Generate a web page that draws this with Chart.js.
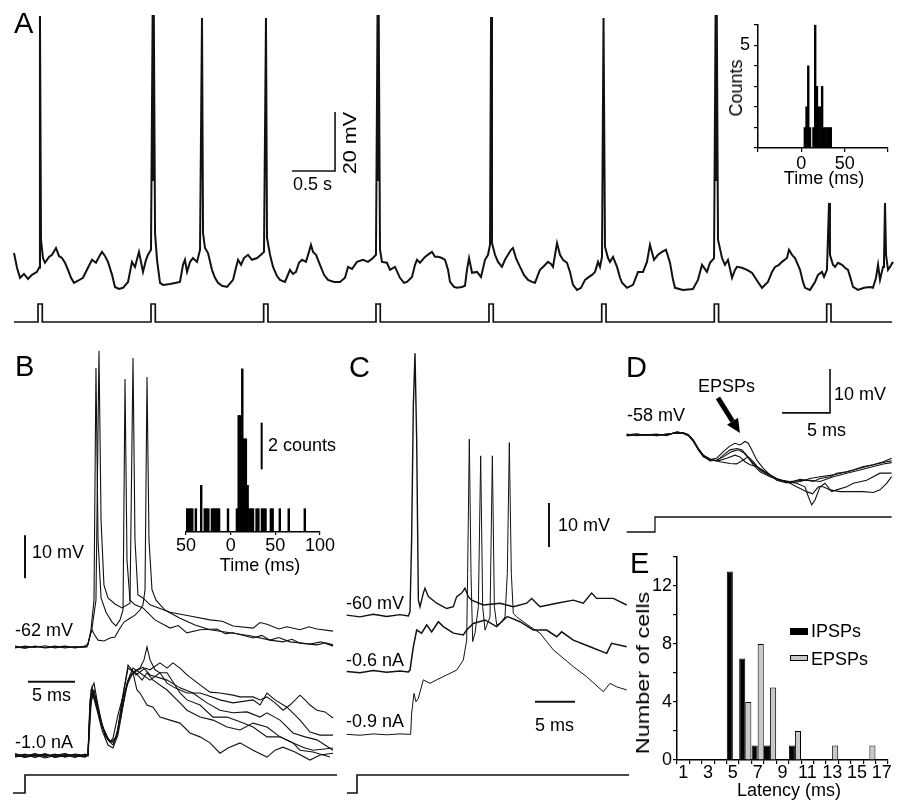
<!DOCTYPE html>
<html><head><meta charset="utf-8">
<script src="https://cdn.jsdelivr.net/npm/chart.js@4.4.0/dist/chart.umd.min.js"></script>
<style>
html,body{margin:0;padding:0;background:#fff;}
#fig{position:relative;width:903px;height:800px;background:#fff;overflow:hidden;font-family:"Liberation Sans",Arial,Helvetica,sans-serif;color:#000;}
canvas{position:absolute;}
.t{position:absolute;font-size:18px;line-height:1;white-space:nowrap;transform:translateY(-50%);z-index:5;}
.c{transform:translate(-50%,-50%);}
.r{transform:translate(-50%,-50%) rotate(-90deg);}
.p{font-size:29px;}
.box{position:absolute;z-index:5;box-sizing:border-box;}
</style></head><body>
<div id="fig">
<canvas id="cA" width="903" height="330" style="left:0;top:0"></canvas>
<canvas id="cAi" width="203" height="190" style="left:700px;top:10px"></canvas>
<canvas id="cB" width="340" height="460" style="left:0;top:340px"></canvas>
<canvas id="cBi" width="160" height="230" style="left:176px;top:350px"></canvas>
<canvas id="cC" width="300" height="460" style="left:340px;top:340px"></canvas>
<canvas id="cD" width="283" height="200" style="left:620px;top:340px"></canvas>
<canvas id="cE" width="278" height="255" style="left:625px;top:545px"></canvas>

<div class="t p" style="left:14px;top:23px">A</div>
<div class="t" style="left:293px;top:184px">0.5 s</div>
<div class="t" style="left:350px;top:143px;transform:translate(-50%,-50%) rotate(-90deg) scaleX(1.2)">20 mV</div>
<div class="t r" style="left:736px;top:88px">Counts</div>
<div class="t c" style="left:824px;top:178px">Time (ms)</div>

<div class="t p" style="left:15px;top:366px">B</div>
<div class="t" style="left:15px;top:630px">-62 mV</div>
<div class="t" style="left:32px;top:552px">10 mV</div>
<div class="t" style="left:32px;top:695px">5 ms</div>
<div class="t" style="left:15px;top:742px">-1.0 nA</div>
<div class="t" style="left:268px;top:445px">2 counts</div>
<div class="t c" style="left:260px;top:565px">Time (ms)</div>

<div class="t p" style="left:349px;top:367px">C</div>
<div class="t" style="left:346px;top:603px">-60 mV</div>
<div class="t" style="left:346px;top:660px">-0.6 nA</div>
<div class="t" style="left:346px;top:721px">-0.9 nA</div>
<div class="t" style="left:558px;top:525px">10 mV</div>
<div class="t" style="left:535px;top:725px">5 ms</div>

<div class="t p" style="left:626px;top:367px">D</div>
<div class="t" style="left:627px;top:415px">-58 mV</div>
<div class="t" style="left:698px;top:386px">EPSPs</div>
<div class="t" style="left:834px;top:394px">10 mV</div>
<div class="t" style="left:807px;top:430px">5 ms</div>

<div class="t p" style="left:630px;top:563px">E</div>
<div class="box" style="left:790px;top:628px;width:18px;height:7px;background:#000"></div>
<div class="box" style="left:790px;top:655px;width:18px;height:6px;background:#c8c8c8;border:1px solid #000"></div>
<div class="t" style="left:811px;top:631px">IPSPs</div>
<div class="t" style="left:811px;top:659px">EPSPs</div>
<div class="t" style="left:643px;top:673px;transform:translate(-50%,-50%) rotate(-90deg) scaleX(1.3)">Number of cells</div>
<div class="t c" style="left:789px;top:790px">Latency (ms)</div>
</div>
<script>
// ---------------- DATA ----------------
// Panel A: membrane potential (time s, mV)
const traceA = [[0,-52.5],[0.035,-57.5],[0.07,-60.9],[0.116,-59.6],[0.163,-61.3],[0.209,-59.9],[0.267,-58.9],[0.291,-57.5],[0.302,27.9],[0.314,-48.0],[0.337,-54.2],[0.36,-55.8],[0.407,-53.8],[0.442,-53.1],[0.488,-50.8],[0.523,-53.5],[0.558,-54.2],[0.593,-55.8],[0.628,-58.2],[0.663,-60.9],[0.698,-62.6],[0.744,-61.9],[0.802,-60.9],[0.86,-57.5],[0.907,-54.8],[0.953,-55.8],[0.988,-53.8],[1.023,-52.1],[1.058,-53.5],[1.093,-55.5],[1.14,-59.9],[1.174,-64.0],[1.221,-64.7],[1.267,-64.3],[1.326,-62.3],[1.372,-55.5],[1.407,-57.2],[1.453,-52.1],[1.5,-58.9],[1.535,-54.8],[1.558,-53.1],[1.593,-51.4],[1.612,28.2],[1.619,-27.7],[1.626,28.2],[1.64,-45.7],[1.663,-54.8],[1.698,-62.6],[1.733,-63.3],[1.814,-63.0],[1.884,-62.6],[1.93,-62.3],[1.965,-56.5],[1.988,-54.8],[2.012,-58.9],[2.047,-55.5],[2.081,-54.2],[2.128,-55.5],[2.163,-51.4],[2.186,27.2],[2.198,-45.7],[2.221,-50.8],[2.256,-52.5],[2.302,-58.2],[2.337,-60.9],[2.372,-62.6],[2.419,-63.6],[2.477,-64.0],[2.547,-61.6],[2.581,-57.5],[2.605,-54.8],[2.64,-56.5],[2.674,-54.2],[2.721,-53.1],[2.767,-54.8],[2.826,-54.2],[2.872,-53.1],[2.907,-52.1],[2.93,27.2],[2.942,-47.4],[2.977,-53.1],[3.012,-57.2],[3.058,-60.3],[3.093,-61.6],[3.151,-62.3],[3.209,-58.2],[3.244,-59.6],[3.279,-58.9],[3.314,-55.8],[3.349,-54.8],[3.395,-55.5],[3.43,-52.1],[3.453,-49.7],[3.477,-52.1],[3.512,-53.1],[3.558,-56.5],[3.605,-59.9],[3.651,-61.6],[3.721,-62.3],[3.791,-62.3],[3.849,-60.9],[3.884,-57.2],[3.93,-57.9],[3.988,-55.5],[4.058,-54.8],[4.116,-55.5],[4.174,-54.2],[4.209,-53.1],[4.227,28.2],[4.234,-27.7],[4.241,28.2],[4.256,-51.4],[4.279,-55.5],[4.337,-55.8],[4.372,-58.2],[4.43,-57.2],[4.488,-60.9],[4.535,-62.6],[4.57,-62.3],[4.628,-60.6],[4.663,-56.5],[4.686,-54.8],[4.721,-55.8],[4.779,-53.8],[4.826,-52.8],[4.86,-52.1],[4.895,-53.8],[4.93,-53.8],[4.977,-54.2],[5.012,-54.8],[5.047,-58.2],[5.07,-62.3],[5.116,-64.0],[5.151,-64.3],[5.209,-64.0],[5.244,-63.6],[5.267,-58.2],[5.291,-54.2],[5.326,-59.2],[5.384,-58.9],[5.43,-60.6],[5.477,-54.8],[5.512,-53.1],[5.535,-49.7],[5.547,27.5],[5.558,-49.1],[5.593,-53.1],[5.628,-55.5],[5.674,-57.2],[5.709,-54.8],[5.744,-53.1],[5.779,-51.4],[5.802,-50.8],[5.837,-54.2],[5.884,-57.2],[5.93,-59.9],[5.977,-61.6],[6.023,-62.3],[6.058,-62.6],[6.093,-59.9],[6.116,-58.2],[6.163,-56.9],[6.209,-55.5],[6.244,-56.2],[6.267,-57.2],[6.291,-53.1],[6.314,-49.1],[6.349,-53.1],[6.384,-54.8],[6.43,-55.8],[6.465,-58.9],[6.5,-63.3],[6.547,-65.0],[6.593,-64.3],[6.64,-61.6],[6.686,-60.6],[6.721,-59.9],[6.756,-58.9],[6.791,-55.5],[6.814,-57.2],[6.837,-53.8],[6.855,27.2],[6.872,-50.4],[6.907,-54.2],[6.93,-55.5],[6.965,-53.8],[7.012,-57.2],[7.047,-60.9],[7.07,-62.6],[7.128,-64.3],[7.198,-63.3],[7.256,-58.9],[7.314,-58.9],[7.36,-55.5],[7.395,-49.7],[7.442,-54.8],[7.488,-53.1],[7.535,-52.1],[7.581,-51.4],[7.628,-55.8],[7.663,-61.6],[7.686,-64.3],[7.779,-65.0],[7.895,-64.7],[7.953,-61.6],[8.0,-56.5],[8.058,-58.9],[8.093,-55.8],[8.14,-54.2],[8.158,28.2],[8.165,-27.7],[8.172,28.2],[8.186,-48.0],[8.233,-54.2],[8.267,-56.5],[8.302,-54.8],[8.349,-60.9],[8.384,-58.2],[8.407,-57.2],[8.465,-57.5],[8.523,-58.2],[8.581,-59.2],[8.651,-62.3],[8.698,-64.3],[8.767,-62.3],[8.814,-58.9],[8.849,-57.2],[8.895,-56.5],[8.93,-55.5],[8.988,-54.2],[9.012,-51.4],[9.047,-53.1],[9.081,-54.2],[9.116,-56.5],[9.14,-58.2],[9.174,-62.3],[9.198,-64.3],[9.256,-65.0],[9.314,-62.3],[9.349,-59.9],[9.395,-58.9],[9.419,-60.6],[9.453,-58.2],[9.477,-35.5],[9.488,-53.1],[9.523,-56.5],[9.547,-57.2],[9.581,-55.8],[9.628,-56.5],[9.663,-57.5],[9.698,-58.2],[9.733,-61.6],[9.756,-64.0],[9.814,-65.0],[9.884,-64.3],[9.953,-64.0],[9.988,-64.3],[10.023,-60.9],[10.047,-56.5],[10.07,-61.6],[10.105,-57.2],[10.116,-55.5],[10.128,-35.5],[10.14,-53.1],[10.163,-58.2],[10.186,-57.2],[10.221,-55.5]];
const stimOnsetsA = [0.279,1.593,2.903,4.209,5.523,6.834,8.143,9.450]; // s
const stimWidthA = 0.05;   // s
const stimEndA = 10.21;    // s
const scaleBarA = [[3.233,-24.7],[3.733,-24.7],[3.733,-4.7]]; // 0.5 s, 20 mV

// Panel A inset: spike latency histogram (ms, counts)
const insetA_bins = [4,6,8,10,12,14,16,18,20,22,24,26,28,30,32,34];
const insetA_counts = [1,2,4,1,0,1,6,3,2,2,3,1,1,1,1,1];

// Panel B: responses (ms, mV)
const traceB1 = [[-1.06,-61.8],[0,-62.2],[1.06,-61.9],[2.13,-62.1],[3.19,-61.8],[4.26,-62.2],[5.32,-61.9],[6.38,-62.0],[6.70,-61.5],[7.02,-58.0],[7.34,-51.1],[7.55,2.9],[7.77,-37.1],[8.09,-50.6],[8.62,-53.9],[9.26,-56.2],[9.68,-57.1],[10.11,-55.7],[10.43,-53.4],[10.64,0.3],[10.85,-41.8],[11.17,-51.1],[11.70,-52.2],[12.55,-52.9],[13.83,-55.7],[15.43,-57.6],[16.3,-57.0],[17.23,-58.7],[18.62,-58.0],[20.43,-57.8],[21.3,-58.9],[22.13,-58.7],[24.26,-59.9],[25.2,-59.3],[26.06,-60.4],[27.45,-60.8],[28.4,-60.2],[29.26,-61.1],[31.06,-61.5],[32.0,-61.0],[32.77,-61.5]];
const traceB2 = [[-1.06,-62.2],[0,-61.8],[1.06,-62.1],[2.13,-61.7],[3.19,-62.2],[4.26,-61.9],[5.32,-62.2],[6.38,-61.8],[6.70,-61.3],[7.13,-57.6],[7.55,-51.1],[7.87,6.9],[8.09,-32.5],[8.40,-47.6],[8.83,-50.6],[9.57,-52.0],[10.32,-52.9],[11.17,-51.8],[11.49,5.2],[11.70,-37.1],[12.02,-49.9],[12.55,-50.6],[13.30,-52.2],[15.43,-53.9],[17.55,-54.8],[19.68,-55.7],[21.0,-56.0],[22.13,-57.1],[24.26,-57.6],[25.0,-56.3],[25.74,-56.7],[27.0,-57.8],[27.87,-57.3],[29.26,-58.0],[30.2,-57.3],[31.06,-57.8],[32.77,-58.3]];
const traceB3 = [[-1.06,-62.0],[0,-62.3],[1.06,-61.8],[2.13,-62.2],[3.19,-62.0],[4.26,-61.8],[5.32,-62.1],[6.60,-62.0],[6.91,-59.4],[7.13,-58.0],[7.34,-59.0],[7.77,-60.4],[8.40,-60.6],[9.04,-59.9],[9.57,-59.7],[10.0,-58.0],[10.53,-56.2],[11.17,-55.3],[11.70,-54.6],[12.23,-53.4],[12.55,-52.2],[12.77,-48.7],[12.98,0.8],[13.19,-37.1],[13.51,-48.7],[13.94,-51.1],[14.89,-53.4],[16.49,-55.3],[18.09,-56.9],[19.68,-58.0],[21.81,-58.7],[23.94,-59.4],[26.06,-60.4],[27.0,-59.8],[28.19,-60.8],[30.32,-61.3],[31.5,-60.8],[32.77,-61.8]];
const traceB4 = [[-1.06,-87.0],[0,-87.6],[1.06,-86.8],[2.13,-87.5],[3.19,-86.9],[4.26,-87.6],[5.32,-87.0],[6.38,-87.4],[6.70,-86.9],[6.91,-74.3],[7.13,-72.0],[7.45,-74.3],[7.98,-79.0],[8.51,-82.5],[9.04,-84.1],[9.36,-83.2],[9.89,-77.8],[10.32,-74.3],[10.74,-69.2],[10.96,-66.2],[11.38,-67.3],[11.81,-68.5],[12.23,-67.8],[12.77,-66.9],[13.30,-67.3],[14.36,-65.7],[15.11,-66.9],[15.74,-65.7],[16.49,-66.9],[17.23,-68.5],[18.62,-70.8],[19.68,-72.5],[20.74,-72.7],[22.13,-73.2],[22.87,-73.6],[24.26,-73.6],[25.0,-74.3],[25.74,-73.6],[26.60,-75.0],[27.45,-76.7],[28.19,-75.5],[29.26,-73.2],[29.79,-74.3],[30.32,-75.5],[31.06,-76.7],[31.91,-77.1],[32.77,-78.5]];
const traceB5 = [[-1.06,-87.5],[0,-86.9],[1.06,-87.7],[2.13,-86.8],[3.19,-87.6],[4.26,-87.1],[5.32,-87.7],[6.38,-86.9],[6.70,-87.1],[7.02,-72.0],[7.34,-70.4],[7.66,-74.3],[8.19,-80.1],[8.83,-83.6],[9.36,-84.8],[9.89,-81.3],[10.53,-72.0],[10.96,-66.9],[11.49,-67.8],[12.23,-66.9],[12.66,-65.0],[12.98,-62.0],[13.30,-65.0],[13.83,-67.3],[14.36,-68.0],[15.11,-70.4],[15.96,-71.5],[17.23,-72.7],[18.62,-72.7],[19.36,-73.2],[20.74,-74.3],[22.13,-75.0],[24.26,-74.3],[25.0,-75.5],[25.74,-72.7],[26.60,-74.3],[27.87,-76.0],[29.26,-79.0],[30.32,-81.8],[31.38,-82.5],[32.77,-82.5]];
const traceB6 = [[-1.06,-86.8],[0,-87.4],[1.06,-87.1],[2.13,-87.8],[3.19,-87.2],[4.26,-86.8],[5.32,-87.5],[6.38,-87.0],[6.70,-87.3],[6.91,-75.5],[7.23,-73.2],[7.66,-76.7],[8.19,-81.3],[8.83,-84.8],[9.36,-85.5],[9.89,-82.5],[10.43,-75.5],[10.96,-69.7],[11.49,-68.0],[11.91,-72.0],[12.23,-72.7],[12.98,-75.5],[13.62,-76.0],[14.36,-78.3],[15.43,-79.0],[16.49,-79.7],[17.55,-82.0],[18.62,-82.9],[19.68,-84.3],[20.74,-86.7],[21.60,-85.5],[22.87,-84.3],[24.26,-86.0],[25.74,-87.6],[26.60,-86.0],[27.45,-85.3],[28.72,-86.4],[30.32,-88.3],[31.38,-87.1],[32.77,-86.7]];
const traceB7 = [[-1.06,-87.3],[0,-87.0],[1.06,-87.6],[2.13,-87.1],[3.19,-87.4],[4.26,-86.9],[5.32,-87.3],[6.38,-87.6],[6.70,-87.1],[7.02,-73.2],[7.34,-72.0],[7.77,-76.2],[8.30,-80.8],[8.94,-83.6],[9.47,-84.3],[10.11,-79.4],[10.74,-72.0],[11.17,-68.5],[11.70,-67.8],[12.45,-69.7],[12.98,-68.0],[13.62,-69.7],[15.11,-72.0],[16.49,-75.0],[17.23,-76.7],[18.62,-78.3],[20.0,-79.0],[21.49,-80.6],[22.87,-81.3],[24.26,-79.7],[25.74,-80.6],[27.13,-82.9],[28.51,-84.3],[29.79,-85.5],[30.64,-86.0],[32.77,-85.5]];
const traceB8 = [[-1.06,-87.6],[0,-87.2],[1.06,-86.9],[2.13,-87.4],[3.19,-87.0],[4.26,-87.5],[5.32,-86.9],[6.38,-87.2],[6.70,-87.3],[7.13,-71.5],[7.55,-74.3],[7.98,-78.5],[8.62,-82.9],[9.15,-84.1],[9.68,-83.2],[10.21,-77.1],[10.85,-70.4],[11.49,-66.9],[12.23,-68.0],[13.30,-69.7],[14.36,-68.0],[15.11,-68.0],[16.49,-72.7],[17.23,-74.3],[18.62,-75.5],[20.0,-78.3],[21.49,-78.3],[22.87,-79.4],[24.26,-80.6],[25.74,-82.9],[27.13,-82.9],[28.51,-84.3],[29.26,-86.0],[30.64,-86.4],[32.45,-87.6]];
const traceB9 = [[-1.06,-87.1],[0,-87.7],[1.06,-87.2],[2.13,-86.9],[3.19,-87.7],[4.26,-87.3],[5.32,-87.1],[6.38,-87.5],[6.70,-87.1],[6.91,-76.7],[7.23,-72.5],[7.55,-74.8],[8.09,-79.4],[8.72,-83.2],[9.26,-84.1],[9.79,-82.5],[10.32,-74.3],[10.85,-70.8],[11.49,-68.0],[12.55,-66.7],[13.30,-68.5],[15.11,-69.7],[16.49,-71.5],[17.87,-72.7],[19.36,-75.0],[20.74,-76.7],[22.13,-77.3],[23.62,-77.1],[25.0,-78.3],[25.74,-77.3],[27.13,-79.0],[28.51,-82.0],[29.79,-82.9],[31.06,-83.6],[32.77,-86.0]];
const stimB = [[-1.28,0],[0,0],[0,1],[33.2,1]];
const scaleBarB_mV = [[0,-46],[0,-36]];          // 10 mV
const scaleBarB_ms = [[0.32,-70.1],[5.32,-70.1]]; // 5 ms

// Panel B inset histogram (ms, counts)
const insetB_bins = [-49,-47,-45,-43,-39,-33,-29,-27,-25,-21,-19,-17,-15,-13,-3,7,9,11,13,15,17,19,21,23,25,29,31,35,37,39,45,47,55,65,83];
const insetB_counts = [1,1,1,1,1,2,1,1,1,1,1,1,1,1,1,1,5,5,7,4,4,2,1,1,1,1,1,1,1,1,1,1,1,1,1];
const insetB_tickText = ['50','0','50','100'];
const insetB_countBar = [[34.7,2.69],[34.7,4.69]]; // 2 counts

// Panel C (ms, mV)
const traceC1 = [[-1.29,-59.8],[0.375,-60.2],[2.04,-59.6],[3.71,-60.1],[5.375,-59.7],[6.42,-60.0],[6.625,-59.0],[6.83,-42.7],[7.04,-12.4],[7.25,-0.3],[7.46,-20.0],[7.67,-56.4],[7.875,-57.9],[8.29,-54.8],[8.5,-53.7],[8.92,-55.6],[9.96,-57.1],[11.21,-58.3],[12.04,-57.9],[12.46,-55.6],[13.08,-54.8],[13.5,-53.7],[13.92,-55.6],[14.33,-56.4],[15.79,-57.5],[17.875,-57.1],[19.54,-57.9],[21.21,-57.1],[21.83,-56.0],[22.875,-57.9],[24.96,-57.1],[27.04,-56.4],[28.29,-57.1],[29.33,-54.8],[29.96,-56.0],[32.04,-56.0],[33.71,-57.5]];
const traceC2 = [[-1.29,-72.6],[0.375,-72.9],[2.04,-72.4],[3.71,-72.8],[5.375,-72.5],[6.42,-72.7],[6.625,-72.3],[7.04,-67.0],[7.46,-63.2],[8.08,-63.9],[8.71,-62.0],[9.33,-63.6],[10.17,-61.3],[10.79,-62.4],[12.04,-63.9],[13.29,-64.3],[13.71,-63.2],[14.54,-61.7],[16.0,-60.9],[17.46,-62.4],[18.71,-60.2],[18.92,-60.2],[20.375,-61.3],[22.04,-63.2],[23.71,-63.2],[24.96,-64.7],[25.58,-63.6],[27.04,-65.5],[29.125,-67.0],[31.21,-68.5],[31.83,-66.2],[33.71,-67.0]];
const traceC3 = [[-1.29,-86.9],[0.375,-87.1],[2.04,-86.8],[3.71,-87.0],[5.375,-86.8],[6.71,-86.9],[6.83,-82.1],[7.125,-77.6],[7.375,-79.5],[7.67,-78.7],[8.29,-74.5],[9.125,-75.3],[9.96,-74.5],[11.21,-73.4],[12.46,-72.3],[13.29,-70.0],[13.71,-65.5],[13.83,-50.3],[14.04,-19.8],[14.25,-50.3],[14.46,-65.8],[14.75,-63.9],[15.17,-57.9],[15.46,-23.6],[15.71,-57.9],[16.0,-63.2],[16.625,-60.2],[16.92,-23.6],[17.17,-57.9],[17.46,-62.0],[17.875,-61.7],[18.5,-60.2],[18.79,-50.3],[19.04,-20.6],[19.29,-50.3],[19.54,-59.4],[19.96,-60.2],[21.625,-62.4],[22.875,-63.9],[24.54,-67.7],[27.04,-71.5],[28.71,-73.8],[30.79,-77.2],[31.625,-75.3],[32.46,-76.1],[33.71,-76.8]];
const stimC = [[-1.25,0],[0,0],[0,1],[34.0,1]];
const scaleBarC_mV = [[24,-44.3],[24,-34.3]];
const scaleBarC_ms = [[22.25,-79.5],[27.25,-79.5]];

// Panel D (ms, mV)
const baseD1 = [[-2.95,-58.2],[-1.91,-58.0],[-0.87,-58.3],[0.17,-58.1],[1.22,-58.2],[2.26,-57.6],[2.95,-57.7]];
const baseD2 = [[-2.95,-58.4],[-1.91,-58.3],[-0.87,-58.1],[0.17,-58.4],[1.22,-58.0],[2.26,-57.8],[2.95,-57.9]];
const baseD3 = [[-2.95,-58.0],[-1.91,-58.4],[-0.87,-58.2],[0.17,-58.0],[1.22,-58.4],[2.26,-57.5],[2.95,-57.8]];
const traceD1 = [[3.47,-58.2],[3.99,-59.4],[4.51,-61.3],[5.03,-62.8],[5.73,-63.8],[6.42,-63.5],[7.12,-62.0],[7.81,-60.7],[8.33,-60.1],[8.85,-60.5],[9.375,-59.7],[9.72,-60.1],[10.07,-61.6],[10.59,-63.9],[11.28,-65.8],[11.98,-67.3],[12.67,-68.5],[13.72,-69.1],[14.41,-68.8],[15.10,-68.3],[15.80,-68.5],[16.49,-68.8],[17.19,-68.1],[18.23,-67.7],[18.92,-66.9],[19.97,-66.6],[20.66,-66.2],[21.70,-65.4],[22.74,-65.0],[23.78,-64.3],[24.65,-63.5]];
const traceD2 = [[3.47,-58.4],[3.99,-59.7],[4.51,-61.6],[5.03,-63.0],[5.73,-64.1],[6.42,-63.9],[7.12,-63.2],[7.99,-62.0],[8.68,-61.6],[9.20,-62.2],[9.90,-63.9],[10.59,-65.4],[11.63,-66.9],[12.67,-68.3],[13.72,-68.8],[14.76,-70.0],[15.80,-71.1],[16.42,-71.6],[17.01,-70.0],[17.53,-70.0],[18.23,-70.7],[19.27,-71.1],[20.66,-71.1],[21.70,-71.1],[22.74,-71.3],[23.44,-70.7],[24.13,-69.2],[24.65,-67.7]];
const traceD3 = [[3.47,-58.2],[3.99,-59.5],[4.51,-61.5],[5.03,-63.2],[5.73,-63.9],[6.60,-64.1],[7.47,-63.5],[8.33,-62.8],[8.85,-63.2],[9.375,-64.3],[9.90,-65.0],[10.59,-65.4],[11.63,-66.8],[12.67,-68.1],[13.72,-68.8],[14.76,-69.2],[15.625,-70.0],[15.97,-72.2],[16.32,-74.1],[16.67,-73.0],[17.19,-70.0],[17.71,-69.2],[18.40,-71.1],[18.92,-70.7],[19.97,-70.0],[20.66,-69.2],[22.05,-68.5],[23.44,-66.9],[24.65,-66.9]];
const traceD4 = [[3.47,-58.3],[3.99,-59.6],[4.51,-61.4],[5.03,-62.9],[5.73,-63.9],[6.42,-64.1],[7.12,-62.8],[7.81,-61.6],[8.51,-61.3],[9.03,-61.6],[9.55,-62.8],[10.24,-65.0],[10.94,-66.6],[11.98,-67.7],[13.02,-68.5],[14.06,-69.1],[15.10,-68.8],[16.15,-68.1],[17.19,-67.7],[18.58,-67.3],[19.97,-66.6],[21.35,-65.8],[22.74,-65.0],[24.13,-64.3],[24.65,-64.1]];
const traceD5 = [[3.47,-58.1],[3.99,-59.4],[4.51,-61.3],[5.03,-62.8],[5.73,-63.7],[6.77,-64.3],[7.81,-64.7],[8.51,-64.8],[9.20,-63.9],[9.72,-63.2],[10.24,-64.3],[10.94,-66.2],[11.98,-67.5],[13.02,-68.5],[14.06,-68.8],[15.10,-68.6],[16.15,-68.5],[17.19,-68.8],[18.58,-67.7],[19.97,-66.9],[21.35,-66.2],[22.74,-65.4],[23.78,-64.8],[24.65,-64.5]];
const stimD = [[-2.95,0],[0,0],[0,1],[24.65,1]];
const scaleBarD = [[13.23,-53.2],[18.23,-53.2],[18.23,-43.2]]; // 5 ms, 10 mV
const arrowTailD = [6.56,-49.8];
const arrowHeadD = [8.85,-57.8];

// Panel E: latency histogram
const latencyBins = ['1','2','3','4','5','6','7','8','9','10','11','12','13','14','15','16','17'];
const ipspCells = [0,0,0,0,13,7,1,1,0,1,0,0,0,0,0,0,0];
const epspCells = [0,0,0,0,0,4,8,5,0,2,0,0,1,0,0,1,0];

// ---------------- RENDER ----------------
const FONT = '"Liberation Sans", Arial, Helvetica, sans-serif';
Chart.defaults.font.family = FONT;
Chart.defaults.font.size = 18;
Chart.defaults.color = '#000';
const pts = a => a.map(p => ({x:p[0], y:p[1]}));
const line = (a, w, axis) => ({data:pts(a), showLine:true, borderColor:'#111', borderWidth:w, pointRadius:0, tension:0, fill:false, yAxisID:axis||'y'});
const baseOpts = (xr, yr, y2r) => ({
  responsive:false, animation:false, devicePixelRatio:1,
  layout:{padding:0, autoPadding:false},
  plugins:{legend:{display:false}, tooltip:{enabled:false}},
  scales:{
    x:{type:'linear', display:false, min:xr[0], max:xr[1]},
    y:{type:'linear', display:false, min:yr[0], max:yr[1]},
    y2:{type:'linear', axis:'y', display:false, min:y2r[0], max:y2r[1]}
  }
});
const axisCommon = {drawOnChartArea:false, drawTicks:true, color:'#000', lineWidth:1.2};

// A
const stimA = [[0,0]];
stimOnsetsA.forEach(t0 => { stimA.push([t0,0],[t0,1],[t0+stimWidthA,1],[t0+stimWidthA,0]); });
stimA.push([stimEndA,0]);
new Chart(document.getElementById('cA'), {type:'scatter',
  data:{datasets:[line(traceA,2.0), line(stimA,1.7,'y2'), line(scaleBarA,1.6)]},
  options:baseOpts([-0.16279,10.3372],[-78.6,33.3],[-0.4444,17.889])});

// A inset
new Chart(document.getElementById('cAi'), {type:'bar',
  data:{datasets:[{data:insetA_bins.map((b,i)=>({x:b,y:insetA_counts[i]})), backgroundColor:'#000', borderWidth:0, barPercentage:1, categoryPercentage:1}]},
  options:{responsive:false, animation:false, devicePixelRatio:1,
    layout:{padding:{top:13,right:15,left:0,bottom:0}, autoPadding:false},
    plugins:{legend:{display:false}, tooltip:{enabled:false}},
    scales:{
      x:{type:'linear', min:-50, max:100, offset:false,
         ticks:{stepSize:50, padding:1, maxRotation:0, autoSkip:false, callback:v => (v===0||v===50) ? String(v) : ''},
         grid:Object.assign({tickLength:4, offset:false}, axisCommon), border:{display:true,color:'#000',width:1.5},
         afterFit:s => { s.height = 52; }},
      y:{type:'linear', min:0, max:6,
         ticks:{stepSize:1, padding:4, autoSkip:false, callback:v => v===5 ? '5' : ''},
         grid:Object.assign({tickLength:4}, axisCommon), border:{display:true,color:'#000',width:1.5},
         afterFit:s => { s.width = 58; }}
    }}});

// B
new Chart(document.getElementById('cB'), {type:'scatter',
  data:{datasets:[line(traceB1,1.1), line(traceB2,1.1), line(traceB3,1.1),
    line(traceB4,1.1), line(traceB5,1.1), line(traceB6,1.1), line(traceB7,1.1), line(traceB8,1.1), line(traceB9,1.1),
    line(stimB,1.6,'y2'), line(scaleBarB_mV,2), line(scaleBarB_ms,2)]},
  options:baseOpts([-2.6596,33.5106],[-97.5814,9.3953],[-0.3889,25.1667])});

// B inset
new Chart(document.getElementById('cBi'), {type:'bar',
  data:{datasets:[
    {type:'bar', data:insetB_bins.map((b,i)=>({x:b,y:insetB_counts[i]})), backgroundColor:'#000', borderWidth:0, barPercentage:1, categoryPercentage:1},
    {type:'line', data:pts(insetB_countBar), borderColor:'#000', borderWidth:2, pointRadius:0}
  ]},
  options:{responsive:false, animation:false, devicePixelRatio:1,
    layout:{padding:{top:10,right:16,left:10,bottom:0}, autoPadding:false},
    plugins:{legend:{display:false}, tooltip:{enabled:false}},
    scales:{
      x:{type:'linear', min:-50, max:100, offset:false,
         ticks:{stepSize:50, padding:0, maxRotation:0, autoSkip:false, callback:(v,i) => insetB_tickText[i]},
         grid:Object.assign({tickLength:3, offset:false}, axisCommon), border:{display:true,color:'#000',width:1.5},
         afterFit:s => { s.height = 48; }},
      y:{type:'linear', display:false, min:0, max:7.38}
    }}});

// C
new Chart(document.getElementById('cC'), {type:'scatter',
  data:{datasets:[line(traceC1,1.4), line(traceC2,1.5), line(traceC3,1.0),
    line(stimC,1.6,'y2'), line(scaleBarC_mV,2), line(scaleBarC_ms,2)]},
  options:baseOpts([-2.125,35.375],[-101.8182,2.7273],[-0.3889,25.1667])});

// D
const arrowPlugin = {id:'arrowD', afterDatasetsDraw(chart){
  const c = chart.ctx, sx = chart.scales.x, sy = chart.scales.y;
  const x0 = sx.getPixelForValue(arrowTailD[0]), y0 = sy.getPixelForValue(arrowTailD[1]);
  const x1 = sx.getPixelForValue(arrowHeadD[0]), y1 = sy.getPixelForValue(arrowHeadD[1]);
  const a = Math.atan2(y1-y0, x1-x0), L = 14, W = 6.5;
  const bx = x1 - L*Math.cos(a), by = y1 - L*Math.sin(a);
  c.save(); c.strokeStyle='#000'; c.fillStyle='#000'; c.lineWidth=5;
  c.beginPath(); c.moveTo(x0,y0); c.lineTo(bx,by); c.stroke();
  c.beginPath(); c.moveTo(x1,y1); c.lineTo(bx+W*Math.sin(a), by-W*Math.cos(a)); c.lineTo(bx-W*Math.sin(a), by+W*Math.cos(a)); c.closePath(); c.fill();
  c.restore();
}};
new Chart(document.getElementById('cD'), {type:'scatter',
  data:{datasets:[line(baseD1.concat(traceD1),1.1), line(baseD2.concat(traceD2),1.1),
    line(baseD3.concat(traceD3),1.1), line(baseD2.concat(traceD4),1.1), line(baseD1.concat(traceD5),1.1),
    line(stimD,1.3,'y2'), line(scaleBarD,1.6)]},
  options:baseOpts([-3.6458,25.8333],[-82.0909,-36.6364],[-0.5333,12.8]),
  plugins:[arrowPlugin]});

// E
new Chart(document.getElementById('cE'), {type:'bar',
  data:{labels:latencyBins, datasets:[
    {label:'IPSPs', data:ipspCells, backgroundColor:'#000', borderColor:'#000', borderWidth:1},
    {label:'EPSPs', data:epspCells, backgroundColor:'#c8c8c8', borderColor:'#000', borderWidth:1}
  ]},
  options:{responsive:false, animation:false, devicePixelRatio:1,
    datasets:{bar:{categoryPercentage:0.98, barPercentage:1}},
    layout:{padding:{top:12,right:15,left:0,bottom:0}, autoPadding:false},
    plugins:{legend:{display:false}, tooltip:{enabled:false}},
    scales:{
      x:{type:'category', offset:true,
         ticks:{padding:-2, maxRotation:0, autoSkip:false, callback:(v,i) => (i%2===0 ? latencyBins[i] : '')},
         grid:Object.assign({tickLength:4, offset:true}, axisCommon), border:{display:true,color:'#000',width:1.5},
         afterFit:s => { s.height = 40; }},
      y:{type:'linear', min:0, max:14,
         ticks:{stepSize:2, padding:1, autoSkip:false, callback:v => (v%4===0 ? String(v) : '')},
         grid:Object.assign({tickLength:4}, axisCommon), border:{display:true,color:'#000',width:1.5},
         afterFit:s => { s.width = 52; }}
    }}});
</script>
</body></html>
